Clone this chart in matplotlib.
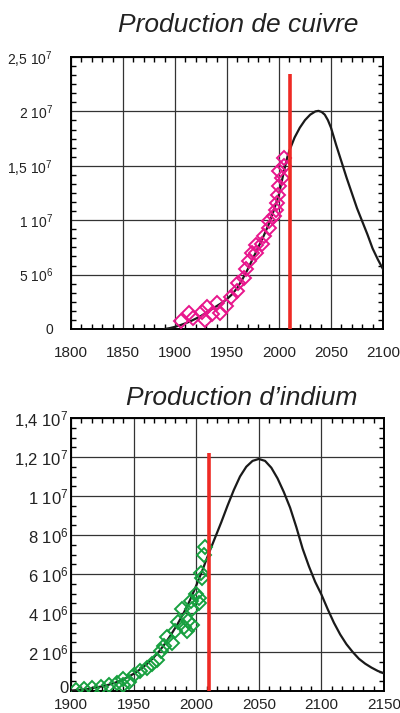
import matplotlib
matplotlib.use("Agg")
import matplotlib.pyplot as plt
import matplotlib.transforms as mtransforms
from matplotlib.ticker import AutoMinorLocator, FixedLocator, FixedFormatter

plt.rcParams['font.family'] = ['Liberation Sans', 'DejaVu Sans']
plt.rcParams['mathtext.default'] = 'regular'

# ---------------- Copper ----------------
cu_title = "Production de cuivre"
cu_years = [1905.5, 1913.5, 1917.7, 1926.3, 1928.9, 1931.2, 1935.3, 1940.8, 1943.0,
            1948.8, 1953.6, 1960.0, 1960.5, 1966.5, 1968.0, 1971.3, 1973.9, 1977.7,
            1977.9, 1983.5, 1985.8, 1990.0, 1990.6, 1995.4, 1997.0, 1997.7, 1998.6,
            1999.6, 2002.5, 2000.2, 2005.0, 2004.4]
cu_prod = [0.78e6, 1.49e6, 1.03e6, 1.59e6, 0.87e6, 2.02e6, 1.34e6, 2.43e6, 1.49e6,
           2.12e6, 2.95e6, 3.51e6, 4.23e6, 4.67e6, 5.54e6, 6.22e6, 7.03e6, 7.71e6,
           7.0e6, 7.81e6, 8.55e6, 9.27e6, 9.89e6, 10.42e6, 10.98e6, 11.6e6, 12.3e6,
           13.16e6, 13.84e6, 14.56e6, 15.02e6, 15.7e6]
cu_model_years = [1890, 1895, 1900, 1905, 1910, 1915, 1920, 1925, 1930, 1935, 1940,
                  1945, 1950, 1955, 1960, 1965, 1970, 1975, 1980, 1985, 1990, 1995,
                  2000, 2005, 2008, 2010, 2015, 2020, 2025, 2030, 2035, 2038, 2041,
                  2044, 2047, 2050, 2055, 2060, 2065, 2070, 2075, 2080, 2085, 2090,
                  2095, 2100]
cu_model = [0.0, 0.08e6, 0.2e6, 0.35e6, 0.52e6, 0.72e6, 0.95e6, 1.2e6, 1.5e6, 1.8e6,
            2.1e6, 2.4e6, 2.75e6, 3.2e6, 3.8e6, 4.6e6, 5.5e6, 6.5e6, 7.5e6, 8.5e6,
            9.6e6, 10.9e6, 12.4e6, 14.6e6, 15.8e6, 16.4e6, 17.6e6, 18.5e6, 19.2e6,
            19.7e6, 20.0e6, 20.05e6, 19.95e6, 19.7e6, 19.2e6, 18.5e6, 16.9e6, 15.4e6,
            13.9e6, 12.5e6, 11.1e6, 9.9e6, 8.7e6, 7.4e6, 6.4e6, 5.5e6]
cu_now_year = 2010.5
cu_now_top = 2.34e7
cu_xticks = [1800, 1850, 1900, 1950, 2000, 2050, 2100]
cu_yticks = [0, 5e6, 1e7, 1.5e7, 2e7, 2.5e7]
cu_ylabels = ['0', '5 10$^{6}$', '1 10$^{7}$', '1,5 10$^{7}$', '2 10$^{7}$', '2,5 10$^{7}$']

# ---------------- Indium ----------------
in_title = "Production d\u2019indium"
in_years = [1904, 1910.6, 1916.5, 1923.7, 1930.6, 1937, 1941.8, 1941.8, 1946, 1950,
            1955, 1961, 1964.4, 1968.4, 1972, 1974, 1977, 1981, 1983, 1985.7, 1988.4,
            1990, 1993, 1993.7, 1997, 1996, 1996.3, 2000, 2002, 2002.5, 2004, 2004.6,
            2006, 2007]
in_prod = [0.07e6, 0.12e6, 0.17e6, 0.2e6, 0.29e6, 0.41e6, 0.63e6, 0.29e6, 0.46e6,
           0.83e6, 1.02e6, 1.16e6, 1.36e6, 1.6e6, 2.04e6, 2.33e6, 2.76e6, 2.47e6,
           3.07e6, 3.53e6, 4.21e6, 3.27e6, 3.07e6, 3.61e6, 3.36e6, 4.63e6, 4.2e6,
           5.0e6, 4.5e6, 4.77e6, 6.03e6, 5.8e6, 7.0e6, 7.36e6]
in_model_years = [1900, 1905, 1910, 1915, 1920, 1925, 1930, 1935, 1940, 1945, 1950,
                  1955, 1960, 1965, 1970, 1975, 1980, 1985, 1990, 1995, 2000, 2005,
                  2010, 2015, 2020, 2025, 2030, 2035, 2040, 2045, 2050, 2055, 2060,
                  2065, 2070, 2075, 2080, 2085, 2090, 2095, 2100, 2105, 2110, 2115,
                  2120, 2125, 2130, 2135, 2140, 2145, 2150]
in_model = [0.02e6, 0.05e6, 0.08e6, 0.12e6, 0.18e6, 0.24e6, 0.32e6, 0.42e6, 0.55e6,
            0.7e6, 0.88e6, 1.1e6, 1.35e6, 1.65e6, 2.0e6, 2.42e6, 2.9e6, 3.42e6, 4.0e6,
            4.65e6, 5.4e6, 6.2e6, 7.05e6, 7.85e6, 8.65e6, 9.5e6, 10.3e6, 11.0e6,
            11.5e6, 11.8e6, 11.9e6, 11.8e6, 11.45e6, 10.9e6, 10.2e6, 9.4e6, 8.4e6,
            7.3e6, 6.4e6, 5.6e6, 4.95e6, 4.2e6, 3.5e6, 2.9e6, 2.4e6, 2.0e6, 1.65e6,
            1.4e6, 1.2e6, 1.03e6, 0.9e6]
in_now_year = 2010
in_now_top = 1.22e7
in_xticks = [1900, 1950, 2000, 2050, 2100, 2150]
in_yticks = [0, 2e6, 4e6, 6e6, 8e6, 1e7, 1.2e7, 1.4e7]
in_ylabels = ['0', '2 10$^{6}$', '4 10$^{6}$', '6 10$^{6}$', '8 10$^{6}$',
              '1 10$^{7}$', '1,2 10$^{7}$', '1,4 10$^{7}$']

W, H = 400, 713
fig = plt.figure(figsize=(W / 100, H / 100), dpi=100)


def make_axes(rect, xlim, ylim, xticks, yticks, ylabels, xminor, yminor,
              xfs, yfs, xpad, ypad):
    ax = fig.add_axes(rect)
    ax.set_xlim(*xlim)
    ax.set_ylim(*ylim)
    ax.xaxis.set_major_locator(FixedLocator(xticks))
    ax.set_xticklabels([str(t) for t in xticks])
    ax.yaxis.set_major_locator(FixedLocator(yticks))
    ax.yaxis.set_major_formatter(FixedFormatter(ylabels))
    ax.xaxis.set_minor_locator(AutoMinorLocator(xminor))
    ax.yaxis.set_minor_locator(AutoMinorLocator(yminor))
    ax.tick_params(which='both', direction='in', top=True, right=True, color='black')
    ax.tick_params(which='major', length=0)
    ax.tick_params(which='minor', length=3.5, width=1.0)
    ax.tick_params(axis='x', which='major', labelsize=xfs, pad=xpad)
    ax.tick_params(axis='y', which='major', labelsize=yfs, pad=ypad)
    ax.grid(True, which='major', color='#333333', linewidth=0.9)
    for s in ax.spines.values():
        s.set_linewidth(1.4)
    return ax


# Copper axes
ax1 = make_axes([71 / W, 1 - 329 / H, 312 / W, 272 / H], (1800, 2100), (0, 2.5e7),
                cu_xticks, cu_yticks, cu_ylabels, 5, 6, 11, 10, 12.5, 13)
ax1.plot(cu_model_years, cu_model, color='#1a1a1a', lw=1.6, zorder=3)
ax1.plot(cu_years, cu_prod, linestyle='none', marker='D', markersize=6.8,
         markerfacecolor='none', markeredgecolor='#E8168C', markeredgewidth=1.4,
         zorder=4)
ax1.vlines(cu_now_year, 0, cu_now_top, color='#EE2A24', lw=2.6, zorder=5)
fig.text(238.5 / W, 1 - 32 / H, cu_title, fontsize=19, style='italic',
         ha='center', va='baseline', color='#222222')

# Indium axes
ax2 = make_axes([71 / W, 1 - 691 / H, 313 / W, 273 / H], (1900, 2150), (0, 1.4e7),
                in_xticks, in_yticks, in_ylabels, 6, 4, 11, 12, 5, 2)
ax2.plot(in_model_years, in_model, color='#1a1a1a', lw=1.6, zorder=3)
ax2.plot(in_years, in_prod, linestyle='none', marker='D', markersize=6.8,
         markerfacecolor='none', markeredgecolor='#17A03F', markeredgewidth=1.4,
         zorder=4)
ax2.vlines(in_now_year, 0, in_now_top, color='#EE2A24', lw=2.6, zorder=5)
fig.text(241.5 / W, 1 - 405 / H, in_title, fontsize=19, style='italic',
         ha='center', va='baseline', color='#222222')

for ax in (ax1, ax2):
    for lab in ax.get_xticklabels() + ax.get_yticklabels():
        lab.set_color('#222222')
        lab.set_clip_on(False)

# lift the "0" label of the lower chart slightly, as in the reference
zero_tick = ax2.yaxis.get_major_ticks()[0]
zero_tick.label1.set_transform(zero_tick.label1.get_transform() +
                               mtransforms.ScaledTranslation(0, 3 / 72, fig.dpi_scale_trans))

fig.savefig('out.png', dpi=100)
